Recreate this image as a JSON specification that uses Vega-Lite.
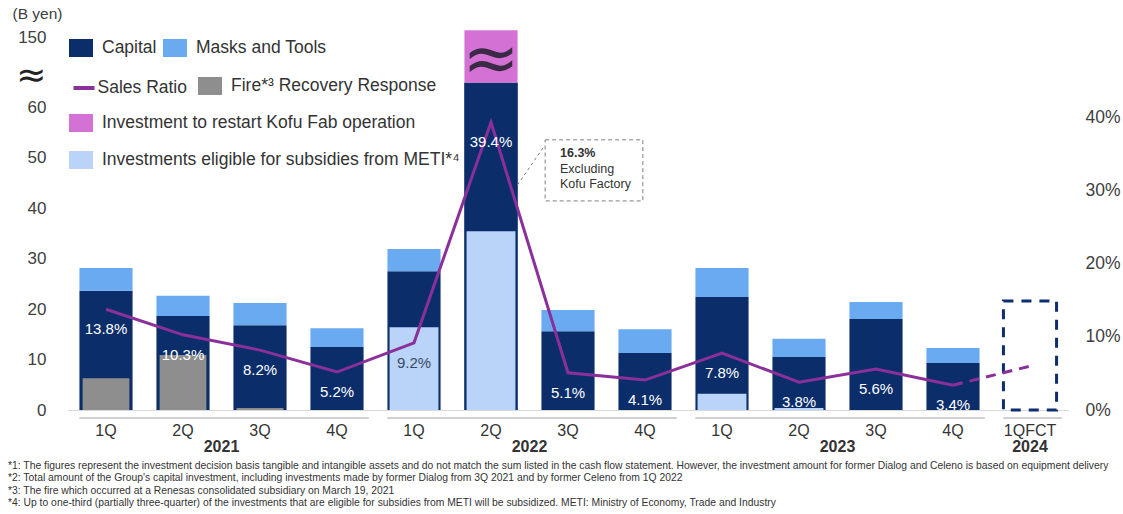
{
  "$schema": "https://vega.github.io/schema/vega-lite/v6.json",
  "width": 1001,
  "height": 380,
  "autosize": "none",
  "padding": {"left": 67.5, "top": 30, "right": 54.5, "bottom": 104},
  "background": "white",
  "config": {
    "view": {"stroke": null},
    "font": "Liberation Sans",
    "axis": {"labelFont": "Liberation Sans", "labelColor": "#404040", "grid": false, "ticks": false, "domain": false},
    "legend": {
      "labelFont": "Liberation Sans", "labelFontSize": 17.5, "labelColor": "#333333", "labelOffset": 12,
      "labelLimit": 700, "padding": 0, "columnPadding": 6, "rowPadding": 0,
      "symbolType": "M-1.333,-1H1.333V1H-1.333Z", "symbolSize": 324, "symbolStrokeWidth": 0, "symbolOpacity": 1
    }
  },
  "title": {
    "text": [
      "*1: The figures represent the investment decision basis tangible and intangible assets and do not match the sum listed in the cash flow statement. However, the investment amount for former Dialog and Celeno is based on equipment delivery",
      "*2: Total amount of the Group's capital investment, including investments made by former Dialog from 3Q 2021 and by former Celeno from 1Q 2022",
      "*3: The fire which occurred at a Renesas consolidated subsidiary on March 19, 2021",
      "*4: Up to one-third (partially three-quarter) of the investments that are eligible for subsidies from METI will be subsidized. METI: Ministry of Economy, Trade and Industry"
    ],
    "orient": "bottom", "anchor": "start", "frame": "group", "font": "Liberation Sans", "fontSize": 10.35,
    "fontWeight": "normal", "color": "#333333", "lineHeight": 12.5, "dx": -59.5, "offset": 6, "baseline": "top"
  },
  "datasets": {
    "inv": [
      {"q": "2021 1Q", "cat": "Capital", "v": 23.6},
      {"q": "2021 1Q", "cat": "Masks and Tools", "v": 4.5},
      {"q": "2021 1Q", "cat": "Fire*³ Recovery Response", "v": 6.3},
      {"q": "2021 2Q", "cat": "Capital", "v": 18.6},
      {"q": "2021 2Q", "cat": "Masks and Tools", "v": 4.0},
      {"q": "2021 2Q", "cat": "Fire*³ Recovery Response", "v": 10.9},
      {"q": "2021 3Q", "cat": "Capital", "v": 16.8},
      {"q": "2021 3Q", "cat": "Masks and Tools", "v": 4.4},
      {"q": "2021 3Q", "cat": "Fire*³ Recovery Response", "v": 0.4},
      {"q": "2021 4Q", "cat": "Capital", "v": 12.5},
      {"q": "2021 4Q", "cat": "Masks and Tools", "v": 3.7},
      {"q": "2022 1Q", "cat": "Capital", "v": 27.5},
      {"q": "2022 1Q", "cat": "Masks and Tools", "v": 4.4},
      {"q": "2022 1Q", "cat": "Investments eligible for subsidies from METI*⁴", "v": 16.4},
      {"q": "2022 2Q", "cat": "Capital", "v": 64.8},
      {"q": "2022 2Q", "cat": "Investment to restart Kofu Fab operation", "v": 10.4},
      {"q": "2022 2Q", "cat": "Investments eligible for subsidies from METI*⁴", "v": 35.4},
      {"q": "2022 3Q", "cat": "Capital", "v": 15.6},
      {"q": "2022 3Q", "cat": "Masks and Tools", "v": 4.2},
      {"q": "2022 4Q", "cat": "Capital", "v": 11.3},
      {"q": "2022 4Q", "cat": "Masks and Tools", "v": 4.7},
      {"q": "2023 1Q", "cat": "Capital", "v": 22.4},
      {"q": "2023 1Q", "cat": "Masks and Tools", "v": 5.7},
      {"q": "2023 1Q", "cat": "Investments eligible for subsidies from METI*⁴", "v": 3.2},
      {"q": "2023 2Q", "cat": "Capital", "v": 10.5},
      {"q": "2023 2Q", "cat": "Masks and Tools", "v": 3.6},
      {"q": "2023 2Q", "cat": "Investments eligible for subsidies from METI*⁴", "v": 0.4},
      {"q": "2023 3Q", "cat": "Capital", "v": 18.0},
      {"q": "2023 3Q", "cat": "Masks and Tools", "v": 3.4},
      {"q": "2023 4Q", "cat": "Capital", "v": 9.3},
      {"q": "2023 4Q", "cat": "Masks and Tools", "v": 3.0}
    ],
    "fc": [{"q": "2024 1QFCT", "v": 21.6}],
    "ratio": [
      {"q": "2021 1Q", "r": 0.138},
      {"q": "2021 2Q", "r": 0.103},
      {"q": "2021 3Q", "r": 0.082},
      {"q": "2021 4Q", "r": 0.052},
      {"q": "2022 1Q", "r": 0.092},
      {"q": "2022 2Q", "r": 0.394},
      {"q": "2022 3Q", "r": 0.051},
      {"q": "2022 4Q", "r": 0.041},
      {"q": "2023 1Q", "r": 0.078},
      {"q": "2023 2Q", "r": 0.038},
      {"q": "2023 3Q", "r": 0.056},
      {"q": "2023 4Q", "r": 0.034},
      {"q": "2024 1QFCT", "r": 0.06}
    ],
    "groups": [
      {"year": "2021", "first": "2021 1Q", "last": "2021 4Q", "mid": "2021 2Q"},
      {"year": "2022", "first": "2022 1Q", "last": "2022 4Q", "mid": "2022 2Q"},
      {"year": "2023", "first": "2023 1Q", "last": "2023 4Q", "mid": "2023 2Q"},
      {"year": "2024", "first": "2024 1QFCT", "last": "2024 1QFCT", "mid": "2024 1QFCT"}
    ],
    "note": [{"pct": 0.163, "lines": ["Excluding", "Kofu Factory"]}]
  },
  "layer": [
    {
      "resolve": {"scale": {"fill": "independent"}},
      "layer": [
        {
          "data": {"name": "inv"},
          "transform": [{"filter": {"field": "cat", "oneOf": ["Capital", "Masks and Tools"]}}],
          "mark": {"type": "bar"},
          "encoding": {
            "x": {
              "field": "q", "type": "nominal", "title": null,
              "scale": {"type": "band", "paddingInner": 0.31, "paddingOuter": 0.155,
                "domain": ["2021 1Q", "2021 2Q", "2021 3Q", "2021 4Q", "2022 1Q", "2022 2Q", "2022 3Q", "2022 4Q", "2023 1Q", "2023 2Q", "2023 3Q", "2023 4Q", "2024 1QFCT"]},
              "axis": {"labelExpr": "split(datum.value, ' ')[1]", "labelFontSize": 16, "labelPadding": 12, "labelAngle": 0,
                "labelColor": "#333333", "domain": true, "domainColor": "#d9d9d9", "domainWidth": 1}
            },
            "y": {
              "field": "v", "type": "quantitative", "stack": "zero",
              "scale": {"domain": [0, 75.25], "nice": false, "zero": true},
              "axis": {
                "orient": "left", "values": [0, 10, 20, 30, 40, 50, 60, 66.3, 73.7], "labelOverlap": false,
                "labelExpr": "datum.value > 70 ? '150' : datum.value > 65 ? '≈' : datum.label",
                "labelFontSize": {"condition": {"test": "datum.value > 65 && datum.value < 70", "value": 36}, "value": 17},
                "labelFont": {"condition": {"test": "datum.value > 65 && datum.value < 70", "value": "DejaVu Sans"}, "value": "Liberation Sans"},
                "labelColor": {"condition": {"test": "datum.value > 65 && datum.value < 70", "value": "#222222"}, "value": "#404040"},
                "labelPadding": 21.5,
                "title": "(B yen)", "titleAngle": 0, "titleAlign": "left", "titleBaseline": "middle",
                "titleX": -55.5, "titleY": -17, "titleFontSize": 15.5, "titleFontWeight": "normal",
                "titleColor": "#404040", "titleFont": "Liberation Sans"
              }
            },
            "fill": {
              "field": "cat", "type": "nominal",
              "scale": {"domain": ["Capital", "Masks and Tools"], "range": ["#0b2e6b", "#6aaaf0"]},
              "legend": {"title": null, "orient": "none", "direction": "horizontal", "legendX": 4.5, "legendY": 9}
            },
            "order": {"field": "cat", "type": "nominal", "sort": "ascending"}
          }
        },
        {
          "data": {"name": "inv"},
          "transform": [{"filter": "datum.q == '2022 2Q' && (datum.cat == 'Capital' || datum.cat == 'Investment to restart Kofu Fab operation')"}],
          "mark": {"type": "bar"},
          "encoding": {
            "x": {"field": "q", "type": "nominal"},
            "y": {"field": "v", "type": "quantitative", "stack": "zero"},
            "fill": {
              "field": "cat", "type": "nominal",
              "scale": {"domain": ["Capital", "Investment to restart Kofu Fab operation"], "range": ["#0b2e6b", "#d372d4"]},
              "legend": {"title": null, "orient": "none", "direction": "vertical", "legendX": 4.5, "legendY": 84,
                "values": ["Investment to restart Kofu Fab operation"]}
            },
            "order": {"field": "cat", "type": "nominal", "sort": "ascending"}
          }
        },
        {
          "data": {"name": "inv"},
          "transform": [{"filter": {"field": "cat", "equal": "Fire*³ Recovery Response"}}],
          "mark": {"type": "bar", "width": {"band": 0.88}},
          "encoding": {
            "x": {"field": "q", "type": "nominal"},
            "y": {"field": "v", "type": "quantitative", "stack": null},
            "fill": {
              "field": "cat", "type": "nominal",
              "scale": {"domain": ["Fire*³ Recovery Response"], "range": ["#8e8e8e"]},
              "legend": {"title": null, "orient": "none", "direction": "vertical", "legendX": 133.5, "legendY": 47}
            }
          }
        },
        {
          "data": {"name": "inv"},
          "transform": [{"filter": {"field": "cat", "equal": "Investments eligible for subsidies from METI*⁴"}}],
          "mark": {"type": "bar", "width": {"band": 0.92}},
          "encoding": {
            "x": {"field": "q", "type": "nominal"},
            "y": {"field": "v", "type": "quantitative", "stack": null},
            "fill": {
              "field": "cat", "type": "nominal",
              "scale": {"domain": ["Investments eligible for subsidies from METI*⁴"], "range": ["#b9d4f8"]},
              "legend": {"title": null, "orient": "none", "direction": "vertical", "legendX": 4.5, "legendY": 121}
            }
          }
        },
        {
          "data": {"name": "fc"},
          "mark": {"type": "bar", "filled": false, "stroke": "#0d2d6c", "strokeWidth": 3, "strokeDash": [10, 8]},
          "encoding": {
            "x": {"field": "q", "type": "nominal"},
            "y": {"field": "v", "type": "quantitative"}
          }
        },
        {
          "data": {"name": "groups"},
          "mark": {"type": "rule", "color": "#c0c0c0", "strokeWidth": 1.5},
          "encoding": {
            "x": {"field": "first", "type": "nominal", "bandPosition": 0},
            "x2": {"field": "last", "bandPosition": 1.1},
            "y": {"datum": -1.6}
          }
        },
        {
          "data": {"name": "groups"},
          "transform": [{"filter": "datum.year != '2024'"}],
          "mark": {"type": "text", "fontWeight": "bold", "fontSize": 16, "color": "#333333", "dx": 38.5, "baseline": "middle"},
          "encoding": {
            "x": {"field": "mid", "type": "nominal"},
            "y": {"datum": -7.3},
            "text": {"field": "year"}
          }
        },
        {
          "data": {"name": "groups"},
          "transform": [{"filter": "datum.year == '2024'"}],
          "mark": {"type": "text", "fontWeight": "bold", "fontSize": 16, "color": "#333333", "baseline": "middle"},
          "encoding": {
            "x": {"field": "mid", "type": "nominal"},
            "y": {"datum": -7.3},
            "text": {"field": "year"}
          }
        },
        {
          "data": {"name": "note"},
          "mark": {"type": "rect", "filled": false, "stroke": "#7f7f7f", "strokeWidth": 1, "strokeDash": [4, 3]},
          "encoding": {
            "x": {"datum": "2022 3Q", "bandPosition": 0.07},
            "x2": {"datum": "2022 4Q", "bandPosition": 0.46},
            "y": {"datum": 53.5},
            "y2": {"datum": 41.4}
          }
        },
        {
          "data": {"name": "note"},
          "mark": {"type": "rule", "stroke": "#7f7f7f", "strokeWidth": 1, "strokeDash": [3, 3]},
          "encoding": {
            "x": {"datum": "2022 3Q", "bandPosition": 0.03},
            "x2": {"datum": "2022 2Q", "bandPosition": 1},
            "y": {"datum": 51.9},
            "y2": {"datum": 44.6}
          }
        },
        {
          "data": {"name": "note"},
          "mark": {"type": "text", "fontWeight": "bold", "fontSize": 12.5, "color": "#333333", "align": "left", "baseline": "middle"},
          "encoding": {
            "x": {"datum": "2022 3Q", "bandPosition": 0.35},
            "y": {"datum": 50.9},
            "text": {"field": "pct", "format": ".1%"}
          }
        },
        {
          "data": {"name": "note"},
          "mark": {"type": "text", "fontSize": 12.5, "color": "#333333", "align": "left", "baseline": "middle", "lineHeight": 15},
          "encoding": {
            "x": {"datum": "2022 3Q", "bandPosition": 0.35},
            "y": {"datum": 47.7},
            "text": {"field": "lines"}
          }
        },
        {
          "data": {"name": "note"},
          "mark": {"type": "text", "font": "DejaVu Sans", "fontSize": 68, "color": "#3a2a45", "align": "center", "baseline": "middle"},
          "encoding": {
            "x": {"datum": "2022 2Q"},
            "y": {"datum": 69.1},
            "text": {"value": "≈"}
          }
        }
      ]
    },
    {
      "layer": [
        {
          "data": {"name": "ratio"},
          "transform": [{"filter": "datum.q != '2024 1QFCT'"}],
          "mark": {"type": "line", "strokeWidth": 3},
          "encoding": {
            "x": {"field": "q", "type": "nominal"},
            "y": {
              "field": "r", "type": "quantitative",
              "scale": {"domain": [0, 0.5205], "nice": false, "zero": true},
              "axis": {"orient": "right", "values": [0, 0.1, 0.2, 0.3, 0.4], "format": ".0%", "labelFontSize": 17.5, "labelPadding": 16.5, "title": null}
            },
            "stroke": {
              "datum": "Sales Ratio", "type": "nominal",
              "scale": {"range": ["#8b2f9b"]},
              "legend": {"title": null, "orient": "none", "legendX": 4, "legendY": 45.5, "symbolType": "stroke",
                "symbolSize": 441, "symbolStrokeWidth": 4, "labelOffset": 1}
            }
          }
        },
        {
          "data": {"name": "ratio"},
          "transform": [{"filter": "datum.q == '2023 4Q' || datum.q == '2024 1QFCT'"}],
          "mark": {"type": "line", "strokeWidth": 3, "stroke": "#8b2f9b", "strokeDash": [10, 7]},
          "encoding": {
            "x": {"field": "q", "type": "nominal"},
            "y": {"field": "r", "type": "quantitative"}
          }
        },
        {
          "data": {"name": "ratio"},
          "transform": [{"filter": "datum.q != '2024 1QFCT'"}],
          "mark": {"type": "text", "fontSize": 15, "dy": 20, "baseline": "middle", "align": "center"},
          "encoding": {
            "x": {"field": "q", "type": "nominal"},
            "y": {"field": "r", "type": "quantitative"},
            "text": {"field": "r", "format": ".1%"},
            "color": {"condition": {"test": "datum.q == '2022 1Q'", "value": "#3b4a66"}, "value": "white"}
          }
        }
      ]
    }
  ],
  "resolve": {"scale": {"y": "independent", "fill": "independent", "stroke": "independent"}}
}
